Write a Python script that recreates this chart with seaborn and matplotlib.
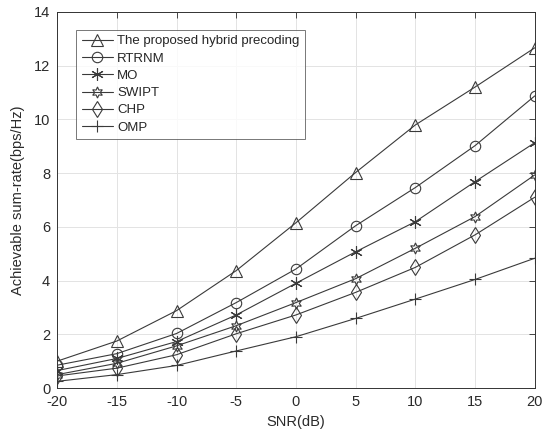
import numpy as np
import pandas as pd
import matplotlib
matplotlib.use("Agg")
import matplotlib.pyplot as plt
import seaborn as sns

snr = [-20, -15, -10, -5, 0, 5, 10, 15, 20]
proposed = [1.0, 1.75, 2.88, 4.37, 6.15, 8.02, 9.79, 11.2, 12.66]
rtrnm = [0.85, 1.28, 2.03, 3.18, 4.43, 6.04, 7.46, 9.02, 10.87]
mo = [0.65, 1.1, 1.73, 2.72, 3.9, 5.07, 6.19, 7.68, 9.13]
swipt = [0.5, 0.92, 1.57, 2.32, 3.18, 4.07, 5.2, 6.38, 7.93]
chp = [0.45, 0.74, 1.24, 2.02, 2.72, 3.56, 4.49, 5.7, 7.1]
omp = [0.25, 0.5, 0.84, 1.38, 1.91, 2.59, 3.31, 4.04, 4.83]

names = ["The proposed hybrid precoding", "RTRNM", "MO", "SWIPT", "CHP", "OMP"]
series = [proposed, rtrnm, mo, swipt, chp, omp]
xticks = [-20, -15, -10, -5, 0, 5, 10, 15, 20]
yticks = [0, 2, 4, 6, 8, 10, 12, 14]

markers = ["^", "o", (6, 2, 0), (6, 1, 0), "d", "+"]
msizes = [8, 7.5, 9, 8, 8, 9]

sns.set_style("white")
plt.rcParams["font.family"] = ["Liberation Sans", "DejaVu Sans"]
plt.rcParams["axes.unicode_minus"] = False

fig = plt.figure(figsize=(5.44, 4.37), dpi=100)
ax = fig.add_axes([0.105, 0.112, 0.878, 0.861])

col = "#3a3a3a"
for name, vals, mk, ms in zip(names, series, markers, msizes):
    df = pd.DataFrame({"SNR": snr, "rate": vals})
    sns.lineplot(data=df, x="SNR", y="rate", ax=ax, color=col, linewidth=0.8,
                 marker=mk, markersize=ms, markerfacecolor="none",
                 markeredgecolor=col, markeredgewidth=0.8, label=name)

ax.set_xlim(-20, 20)
ax.set_ylim(0, 14)
ax.set_xticks(xticks)
ax.set_yticks(yticks)
ax.grid(True, color="#e3e3e3", linewidth=0.7)
ax.set_axisbelow(True)
for s in ax.spines.values():
    s.set_color("#333333")
    s.set_linewidth(0.7)
ax.tick_params(direction="in", length=4, width=0.6, top=True, right=True,
               labelsize=10.5, colors="#2a2a2a", pad=5)
ax.set_xlabel("SNR(dB)", fontsize=10.5, color="#2a2a2a", labelpad=4)
ax.set_ylabel("Achievable sum-rate(bps/Hz)", fontsize=10.5, color="#2a2a2a", labelpad=6)

leg = ax.legend(loc="upper left", bbox_to_anchor=(0.04, 0.952), borderaxespad=0,
                fontsize=9.5, frameon=True, fancybox=False, edgecolor="#555555",
                handlelength=2.4, labelspacing=0.38, borderpad=0.4, handletextpad=0.3)
leg.get_frame().set_linewidth(0.7)

fig.savefig("out.png", dpi=100)
